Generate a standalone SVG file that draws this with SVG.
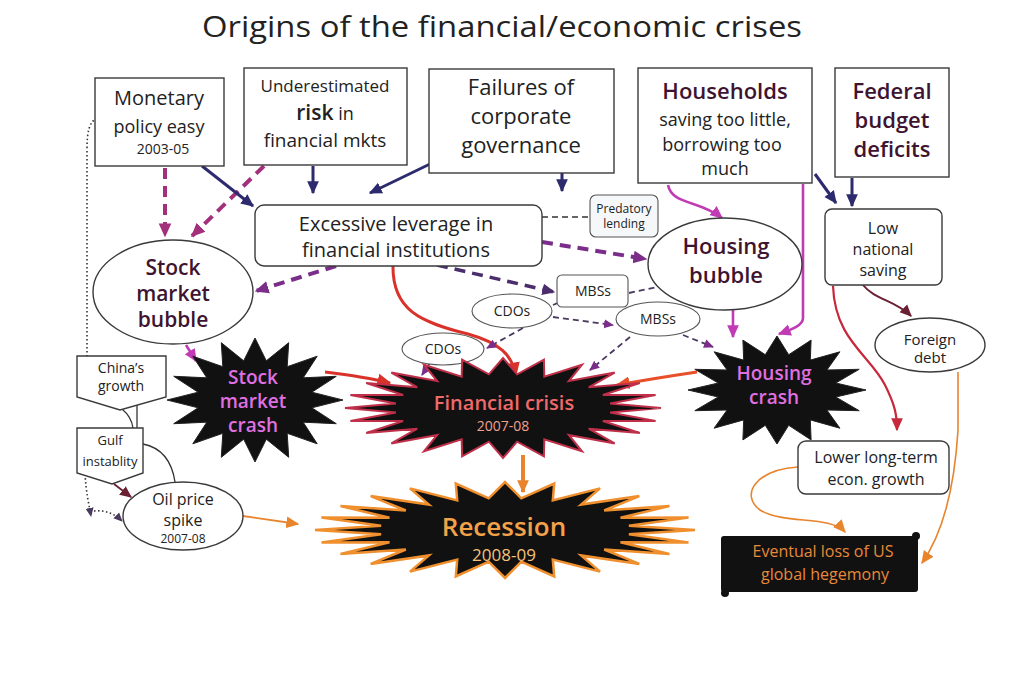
<svg xmlns="http://www.w3.org/2000/svg" width="1024" height="682" viewBox="0 0 1024 682">
<style>
.t{font-family:"Open Sans","Liberation Sans",sans-serif;fill:#222;text-anchor:middle}
.b{font-weight:600}
.m{fill:#3e1430}
.box{fill:#fff;stroke:#3a3a3a;stroke-width:1.4}
.sm{fill:#fff;stroke:#555;stroke-width:1.1}
.navy{stroke:#2d2b6e;stroke-width:3;fill:none;marker-end:url(#aNavy)}
.plum{stroke:#a3307a;stroke-width:4;fill:none;stroke-dasharray:11 7;marker-end:url(#aPlum)}
.purp{stroke:#7b2d8a;stroke-width:4;fill:none;stroke-dasharray:11 7;marker-end:url(#aPurp)}
.dkp{stroke:#4b2d6b;stroke-width:3.5;fill:none;stroke-dasharray:11 7;marker-end:url(#aDkp)}
.mag{stroke:#c13bb4;stroke-width:2.6;fill:none;marker-end:url(#aMag)}
.red{stroke:#d8322b;stroke-width:3;fill:none;marker-end:url(#aRed)}
.org{stroke:#e8842c;fill:none;marker-end:url(#aOrg)}
.thin{stroke:#4a3a5e;stroke-width:1.8;fill:none;stroke-dasharray:6 4}
.thinA{stroke:#4a3a5e;stroke-width:1.8;fill:none;stroke-dasharray:6 4;marker-end:url(#aThin)}
.dot{stroke:#333;stroke-width:1.6;fill:none;stroke-dasharray:1.5 2.5}
</style>
<defs>
<marker id="aNavy" viewBox="0 0 10 10" refX="9" refY="5" markerWidth="13" markerHeight="13" markerUnits="userSpaceOnUse" orient="auto"><path d="M0,0.5 L10,5 L0,9.5 z" fill="#2d2b6e"/></marker>
<marker id="aPlum" viewBox="0 0 10 10" refX="9" refY="5" markerWidth="14" markerHeight="14" markerUnits="userSpaceOnUse" orient="auto"><path d="M0,0.5 L10,5 L0,9.5 z" fill="#a3307a"/></marker>
<marker id="aPurp" viewBox="0 0 10 10" refX="9" refY="5" markerWidth="14" markerHeight="14" markerUnits="userSpaceOnUse" orient="auto"><path d="M0,0.5 L10,5 L0,9.5 z" fill="#7b2d8a"/></marker>
<marker id="aDkp" viewBox="0 0 10 10" refX="9" refY="5" markerWidth="13" markerHeight="13" markerUnits="userSpaceOnUse" orient="auto"><path d="M0,0.5 L10,5 L0,9.5 z" fill="#4b2d6b"/></marker>
<marker id="aMag" viewBox="0 0 10 10" refX="9" refY="5" markerWidth="13" markerHeight="13" markerUnits="userSpaceOnUse" orient="auto"><path d="M0,0.5 L10,5 L0,9.5 z" fill="#c13bb4"/></marker>
<marker id="aRed" viewBox="0 0 10 10" refX="9" refY="5" markerWidth="14" markerHeight="14" markerUnits="userSpaceOnUse" orient="auto"><path d="M0,0.5 L10,5 L0,9.5 z" fill="#d8322b"/></marker>
<marker id="aCrim" viewBox="0 0 10 10" refX="9" refY="5" markerWidth="13" markerHeight="13" markerUnits="userSpaceOnUse" orient="auto"><path d="M0,0.5 L10,5 L0,9.5 z" fill="#c8283c"/></marker>
<marker id="aDkRed" viewBox="0 0 10 10" refX="9" refY="5" markerWidth="12" markerHeight="12" markerUnits="userSpaceOnUse" orient="auto"><path d="M0,0.5 L10,5 L0,9.5 z" fill="#6b1f33"/></marker>
<marker id="aOrg" viewBox="0 0 10 10" refX="9" refY="5" markerWidth="13" markerHeight="13" markerUnits="userSpaceOnUse" orient="auto"><path d="M0,0.5 L10,5 L0,9.5 z" fill="#e8842c"/></marker>
<marker id="aOrgR" viewBox="0 0 10 10" refX="9" refY="5" markerWidth="14" markerHeight="14" markerUnits="userSpaceOnUse" orient="auto"><path d="M0,0.5 L10,5 L0,9.5 z" fill="#e8502a"/></marker>
<marker id="aThin" viewBox="0 0 10 10" refX="9" refY="5" markerWidth="10" markerHeight="10" markerUnits="userSpaceOnUse" orient="auto"><path d="M0,0.5 L10,5 L0,9.5 z" fill="#7b2d8a"/></marker>
<marker id="aDot" viewBox="0 0 10 10" refX="9" refY="5" markerWidth="9" markerHeight="9" markerUnits="userSpaceOnUse" orient="auto"><path d="M0,0.5 L10,5 L0,9.5 z" fill="#4a3a5e"/></marker>
</defs>
<rect width="1024" height="682" fill="#fff"/>
<text class="t" x="502" y="37" font-size="30" textLength="600" lengthAdjust="spacingAndGlyphs">Origins of the financial/economic crises</text>

<g id="connectors">
<path class="dot" d="M97 118 C89 122 87 132 87 150 L87 356"/>
<path class="dot" d="M85 474 C86 492 89 505 91 516" marker-end="url(#aDot)"/>
<path class="dot" d="M94 511 C104 510 114 513 122 521" marker-end="url(#aDot)"/>
<path d="M122 409 C128 414 132 420 133 428" stroke="#333" stroke-width="1.3" fill="none"/>
<path d="M137 401 L137 428" stroke="#333" stroke-width="1.3" fill="none"/>
<path d="M143 444 C163 448 172 462 175 482" stroke="#333" stroke-width="1.3" fill="none"/>
<path d="M114 484 L131 497" stroke="#6b1f33" stroke-width="1.8" fill="none" marker-end="url(#aDkRed)"/>
<path class="org" stroke-width="1.8" d="M243 516 L298 524"/>

<path class="plum" d="M165 168 L165 236"/>
<path class="plum" d="M264 166 L192 236"/>
<path class="navy" d="M202 166 L253 206"/>
<path class="navy" d="M313 166 L313 193"/>
<path class="navy" d="M430 164 L370 193"/>
<path class="navy" d="M562 173 L562 191"/>
<path d="M542 217 L588 217" stroke="#333" stroke-width="1.6" stroke-dasharray="6 4" fill="none"/>
<path class="purp" d="M542 242 L646 259"/>
<path class="purp" d="M336 266 L256 291"/>
<path class="dkp" d="M437 265 L554 292"/>
<path class="red" d="M393 265 C392 310 420 322 468 334 C500 343 512 355 516 375"/>
<path class="thin" d="M629 293 L657 287"/>
<path class="thin" d="M553 305 L565 300"/>
<path class="thinA" d="M553 317 L613 325"/>
<path class="thinA" d="M523 328 L487 348"/>
<path class="thinA" d="M430 363 L422 375"/>
<path class="thinA" d="M630 337 L590 370"/>
<path class="thinA" d="M683 335 L713 347"/>

<path class="mag" d="M668 185 C672 205 700 200 722 218"/>
<path class="mag" d="M803 184 L803 318 C803 326 790 330 779 334"/>
<path class="mag" d="M733 310 L733 337"/>
<path class="navy" d="M815 174 L836 203"/>
<path class="navy" d="M852 178 L852 206"/>
<path d="M863 285 C875 300 895 300 911 316" stroke="#6b1f33" stroke-width="2" fill="none" marker-end="url(#aDkRed)"/>
<path d="M833 286 C835 340 870 355 885 385 C895 405 897 415 897 430" stroke="#c8283c" stroke-width="2.2" fill="none" marker-end="url(#aCrim)"/>
<path class="org" stroke-width="1.6" d="M958 372 L958 430 C955 480 945 530 922 563"/>
<path class="org" stroke-width="1.6" d="M798 467 C755 470 740 495 760 510 C785 525 830 515 845 532"/>

<path class="mag" d="M186 345 L196 361"/>
<path d="M325 372 C350 375 370 378 390 383" stroke="#d8322b" stroke-width="3" fill="none" marker-end="url(#aRed)"/>
<path d="M697 372 C670 376 645 380 617 385" stroke="#e8502a" stroke-width="3" fill="none" marker-end="url(#aOrgR)"/>
<path class="org" stroke-width="4" d="M523 455 L523 492"/>
</g>

<g id="monetary">
<rect class="box" x="95" y="78" width="129" height="88"/>
<text class="t" x="159" y="105" font-size="20">Monetary</text>
<text class="t" x="159" y="133" font-size="18">policy easy</text>
<text class="t" x="163" y="154" font-size="14">2003-05</text>
</g>
<g id="underestimated">
<rect class="box" x="244" y="68" width="163" height="97"/>
<text class="t" x="325" y="92" font-size="17">Underestimated</text>
<text class="t" x="325" y="120" font-size="18"><tspan class="b" font-size="21">risk</tspan> in</text>
<text class="t" x="325" y="147" font-size="19">financial mkts</text>
</g>
<g id="failures">
<rect class="box" x="429" y="69" width="185" height="104"/>
<text class="t" x="521" y="95" font-size="22" font-weight="500">Failures of</text>
<text class="t" x="521" y="124" font-size="22" font-weight="500">corporate</text>
<text class="t" x="521" y="153" font-size="22" font-weight="500">governance</text>
</g>
<g id="households">
<rect class="box" x="638" y="68" width="174" height="115"/>
<text class="t b m" x="725" y="99" font-size="22">Households</text>
<text class="t" x="725" y="126" font-size="18">saving too little,</text>
<text class="t" x="722" y="151" font-size="18">borrowing too</text>
<text class="t" x="725" y="175" font-size="18">much</text>
</g>
<g id="federal">
<rect class="box" x="835" y="68" width="114" height="109"/>
<text class="t b m" x="892" y="99" font-size="22">Federal</text>
<text class="t b m" x="892" y="128" font-size="22">budget</text>
<text class="t b m" x="892" y="157" font-size="22">deficits</text>
</g>
<g id="leverage">
<rect class="box" x="255" y="205" width="287" height="61" rx="9"/>
<text class="t" x="396" y="231" font-size="20">Excessive leverage in</text>
<text class="t" x="396" y="257" font-size="20">financial institutions</text>
</g>
<g id="predatory">
<rect x="590" y="195" width="68" height="42" rx="6" fill="#f5f7f9" stroke="#555" stroke-width="1.1"/>
<text class="t" x="624" y="213" font-size="12">Predatory</text>
<text class="t" x="624" y="228" font-size="12">lending</text>
</g>
<g id="stockbubble">
<ellipse class="box" cx="173" cy="292" rx="80" ry="52"/>
<text class="t b m" x="173" y="275" font-size="21">Stock</text>
<text class="t b m" x="173" y="301" font-size="21">market</text>
<text class="t b m" x="173" y="327" font-size="21">bubble</text>
</g>
<g id="housingbubble">
<ellipse class="box" cx="725" cy="264" rx="77" ry="46"/>
<text class="t b m" x="726" y="254" font-size="22">Housing</text>
<text class="t b m" x="726" y="283" font-size="22">bubble</text>
</g>
<g id="lowsaving">
<rect class="box" x="825" y="209" width="117" height="76" rx="7"/>
<text class="t" x="883" y="234" font-size="16">Low</text>
<text class="t" x="883" y="255" font-size="16">national</text>
<text class="t" x="883" y="276" font-size="16">saving</text>
</g>
<g id="mbs1">
<rect class="sm" x="557" y="275" width="71" height="32" rx="5"/>
<text class="t" x="593" y="296" font-size="14">MBSs</text>
</g>
<g id="cdo1">
<ellipse class="sm" cx="512" cy="311" rx="40" ry="17"/>
<text class="t" x="512" y="316" font-size="14">CDOs</text>
</g>
<g id="mbs2">
<ellipse class="sm" cx="658" cy="319" rx="42" ry="17"/>
<text class="t" x="658" y="324" font-size="14">MBSs</text>
</g>
<g id="cdo2">
<ellipse class="sm" cx="443" cy="349" rx="41" ry="16"/>
<text class="t" x="443" y="354" font-size="14">CDOs</text>
</g>
<g id="foreigndebt">
<ellipse class="box" cx="930" cy="345" rx="55" ry="27"/>
<text class="t" x="930" y="345" font-size="15">Foreign</text>
<text class="t" x="930" y="363" font-size="15">debt</text>
</g>
<g id="china">
<path class="box" d="M77 356 L166 356 L166 397 L120 410 L77 397 Z"/>
<text class="t" x="121" y="373" font-size="14">China’s</text>
<text class="t" x="121" y="391" font-size="14">growth</text>
</g>
<g id="gulf">
<path class="box" d="M77 428 L143 428 L143 473 L112 484 L77 473 Z"/>
<text class="t" x="110" y="445" font-size="13">Gulf</text>
<text class="t" x="110" y="466" font-size="13">instablity</text>
</g>
<g id="oilspike">
<ellipse class="box" cx="183" cy="516" rx="60" ry="34"/>
<text class="t" x="183" y="505" font-size="16">Oil price</text>
<text class="t" x="183" y="526" font-size="16">spike</text>
<text class="t" x="183" y="543" font-size="12">2007-08</text>
</g>
<g id="stockcrash">
<polygon fill="#111" stroke="#222" stroke-width="1" points="343,400 311.9,407.8 336.3,423.7 303.2,422.2 317.2,443.8 287.2,433.3 288.7,457.3 266.3,439.2 255,462 243.7,439.2 221.3,457.3 222.8,433.3 192.8,443.8 206.8,422.2 173.7,423.7 198.1,407.8 167,400 198.1,392.2 173.7,376.3 206.8,377.8 192.8,356.2 222.8,366.7 221.3,342.7 243.7,360.8 255,338 266.3,360.8 288.7,342.7 287.2,366.7 317.2,356.2 303.2,377.8 336.3,376.3 311.9,392.2"/>
<text class="t b" x="253" y="384" font-size="19" style="fill:#e070e0">Stock</text>
<text class="t b" x="253" y="408" font-size="19" style="fill:#e070e0">market</text>
<text class="t b" x="253" y="432" font-size="19" style="fill:#e070e0">crash</text>
</g>
<g id="housingcrash">
<polygon fill="#111" stroke="#222" stroke-width="1" points="866,390 835.8,397 859.2,410.7 826.9,410 839.9,428.2 810.3,419.9 811.1,439.9 788.7,425.3 777,444 765.3,425.3 742.9,439.9 743.7,419.9 714.1,428.2 727.1,410 694.8,410.7 718.2,397 688,390 718.2,383 694.8,369.3 727.1,370 714.1,351.8 743.7,360.1 742.9,340.1 765.3,354.7 777,336 788.7,354.7 811.1,340.1 810.3,360.1 839.9,351.8 826.9,370 859.2,369.3 835.8,383"/>
<text class="t b" x="774" y="380" font-size="19" style="fill:#e070e0">Housing</text>
<text class="t b" x="774" y="404" font-size="19" style="fill:#e070e0">crash</text>
</g>
<g id="financialcrisis">
<polygon fill="#111" stroke="#c0304a" stroke-width="2" transform="translate(3,0)" points="658,408 607.1,412.4 652.6,420.9 599.8,421 636.8,433 585.7,428.7 611.7,443.4 565.8,435 579,451.3 541.3,439.4 540.9,456.3 514.1,441.7 500,458 485.9,441.7 459.1,456.3 458.7,439.4 421,451.3 434.2,435 388.3,443.4 414.3,428.7 363.2,433 400.2,421 347.4,420.9 392.9,412.4 342,408 392.9,403.6 347.4,395.1 400.2,395 363.2,383 414.3,387.3 388.3,372.6 434.2,381 421,364.7 458.7,376.6 459.1,359.7 485.9,374.3 500,358 514.1,374.3 540.9,359.7 541.3,376.6 579,364.7 565.8,381 611.7,372.6 585.7,387.3 636.8,383 599.8,395 652.6,395.1 607.1,403.6"/>
<text class="t b" x="504" y="410" font-size="20" style="fill:#f06a6a">Financial crisis</text>
<text class="t" x="503" y="431" font-size="14" style="fill:#f2a08c">2007-08</text>
</g>
<g id="recession">
<polygon fill="#111" stroke="#ef8f2e" stroke-width="2.5" points="695,530 628.9,534.2 688.5,542.4 620.5,542.2 669.5,554 604.2,549.5 639.3,563.9 581.1,555.4 600,571.6 552.8,559.6 554.2,576.4 521.3,561.7 505,578 488.7,561.7 455.8,576.4 457.2,559.6 410,571.6 428.9,555.4 370.7,563.9 405.8,549.5 340.5,554 389.5,542.2 321.5,542.4 381.1,534.2 315,530 381.1,525.8 321.5,517.6 389.5,517.8 340.5,506 405.8,510.5 370.7,496.1 428.9,504.6 410,488.4 457.2,500.4 455.8,483.6 488.7,498.3 505,482 521.3,498.3 554.2,483.6 552.8,500.4 600,488.4 581.1,504.6 639.3,496.1 604.2,510.5 669.5,506 620.5,517.8 688.5,517.6 628.9,525.8"/>
<text class="t b" x="504" y="536" font-size="26" style="fill:#f3a24a">Recession</text>
<text class="t" x="504" y="561" font-size="17" style="fill:#f6c27a">2008-09</text>
</g>
<g id="lowergrowth">
<rect class="box" x="798" y="441" width="151" height="53" rx="8"/>
<text class="t" x="876" y="463" font-size="16">Lower long-term</text>
<text class="t" x="876" y="485" font-size="16">econ. growth</text>
</g>
<g id="hegemony">
<rect x="721" y="536" width="197" height="56" rx="3" fill="#111"/>
<circle cx="916" cy="536" r="4" fill="#111"/>
<circle cx="725" cy="593" r="4" fill="#111"/>
<text class="t" x="823" y="557" font-size="16" font-weight="500" style="fill:#e8893a">Eventual loss of US</text>
<text class="t" x="825" y="580" font-size="16" font-weight="500" style="fill:#e8893a">global hegemony</text>
</g>
</svg>
